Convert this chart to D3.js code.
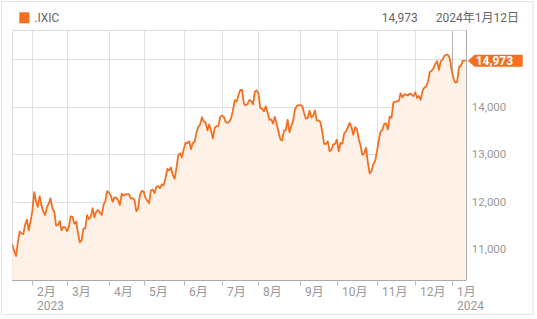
<!DOCTYPE html>
<html>
<head>
<meta charset="utf-8">
<script src="https://cdn.jsdelivr.net/npm/d3@7"></script>
<style>
body { margin: 0; background: #fff; }
svg { font-family: Roboto, "Noto Sans CJK JP", sans-serif; }
</style>
</head>
<body>
<svg width="537" height="319"></svg>
<script>
var symbol = '.IXIC';
var lastLabel = '14,973';
var dateLabel = '2024年1月12日';

// closes per month, trading days (Jan 2023 starts mid month)
var jan23 = [11079, 11095, 10957, 10852, 11140, 11364, 11334, 11313, 11512, 11621, 11394, 11584];
var feb23 = [11816, 12201, 12007, 11888, 12114, 11910, 11790, 11718, 11892, 11960, 12070, 11855, 11787, 11492, 11507, 11591, 11395, 11466, 11456];
var mar23 = [11379, 11462, 11689, 11676, 11530, 11576, 11338, 11138, 11188, 11428, 11434, 11717, 11630, 11675, 11860, 11670, 11787, 11824, 11768, 11716, 11926, 12013, 12222];
var apr23 = [12189, 12126, 11996, 12088, 12084, 12032, 11929, 12167, 12123, 12158, 12153, 12157, 12060, 12072, 12038, 11799, 11855, 12143, 12227];
var may23 = [12212, 12081, 12025, 11966, 12235, 12256, 12180, 12306, 12329, 12284, 12366, 12343, 12501, 12689, 12658, 12721, 12560, 12484, 12698, 12975, 13017, 12935];
var jun23 = [13101, 13241, 13230, 13276, 13104, 13239, 13259, 13461, 13573, 13626, 13782, 13689, 13667, 13502, 13630, 13492, 13335, 13555, 13591, 13591, 13788];
var jul23 = [13817, 13791, 13679, 13660, 13685, 13760, 13919, 14138, 14113, 14245, 14354, 14358, 14063, 14032, 14059, 14144, 14127, 14050, 14317, 14346];
var aug23 = [14283, 13973, 13960, 13909, 14012, 13885, 13723, 13737, 13645, 13789, 13632, 13474, 13316, 13290, 13498, 13506, 13722, 13464, 13590, 13705, 13943, 14020, 14035];
var sep23 = [14031, 14021, 13873, 13749, 13762, 13918, 13774, 13814, 13926, 13708, 13711, 13679, 13469, 13224, 13212, 13271, 13064, 13093, 13201, 13219];
var oct23 = [13308, 13059, 13236, 13220, 13431, 13485, 13563, 13660, 13575, 13407, 13568, 13534, 13315, 13187, 12984, 13019, 13140, 12821, 12596, 12643, 12790, 12851];
var nov23 = [13061, 13294, 13478, 13518, 13640, 13651, 13522, 13798, 13768, 14094, 14104, 14114, 14126, 14285, 14200, 14266, 14250, 14242, 14282, 14258, 14226];
var dec23 = [14306, 14186, 14230, 14147, 14340, 14404, 14432, 14533, 14734, 14762, 14814, 14905, 14964, 14778, 14964, 14993, 15075, 15100, 15096, 15011];
var jan24 = [14766, 14592, 14510, 14524, 14843, 14858, 14970, 14970, 14973];

var months = [jan23, feb23, mar23, apr23, may23, jun23, jul23, aug23, sep23, oct23, nov23, dec23, jan24];
var monthNames = ['1月', '2月', '3月', '4月', '5月', '6月', '7月', '8月', '9月', '10月', '11月', '12月', '1月'];
var yearNames = ['', '2023', '', '', '', '', '', '', '', '', '', '', '2024'];

var gridTicks = [11000, 12000, 13000, 14000, 15000];
var labelTicks = [11000, 12000, 13000, 14000];

var orange = '#f37021';

// flatten to points, remember where each month starts
var points = [];
var monthStart = [];
months.forEach(function(m, mi){
    monthStart.push({i: points.length, name: monthNames[mi], year: yearNames[mi]});
    m.forEach(function(v){
        points.push({i: points.length, v: v});
    });
});
var ticks = monthStart.slice(1);

var pLeft = 12.3, pRight = 465.7, pTop = 30.1, pBottom = 280.3;

var x = d3.scaleLinear().domain([12, 242]).range([32.4, 451.7]);
var y = d3.scaleLinear().domain([10340, 15618]).range([pBottom, pTop]);

var svg = d3.select('svg');

// outer frame
svg.append('rect')
    .attr('x', 1.5).attr('y', 1.5)
    .attr('width', 531.5).attr('height', 313)
    .attr('fill', 'none')
    .attr('stroke', '#e4e4e4');

// header
svg.append('rect')
    .attr('x', 19.3).attr('y', 12.3)
    .attr('width', 10).attr('height', 11)
    .attr('fill', orange);
svg.append('text')
    .attr('x', 34.3).attr('y', 22)
    .attr('font-size', 12).attr('fill', '#666')
    .text(symbol);
svg.append('text')
    .attr('x', 381.7).attr('y', 22)
    .attr('font-size', 12).attr('fill', '#666')
    .text(lastLabel);
svg.append('text')
    .attr('x', 435.7).attr('y', 22)
    .attr('font-size', 12).attr('fill', '#666')
    .text(dateLabel);

// grid
svg.append('g')
    .selectAll('line')
    .data(gridTicks)
    .enter()
    .append('line')
    .attr('x1', pLeft).attr('x2', pRight)
    .attr('y1', function(d){ return Math.round(y(d)) + 0.5; })
    .attr('y2', function(d){ return Math.round(y(d)) + 0.5; })
    .attr('stroke', '#e0e0e0');

svg.append('g')
    .selectAll('line')
    .data(ticks)
    .enter()
    .append('line')
    .attr('x1', function(d){ return Math.round(x(d.i)) + 0.5; })
    .attr('x2', function(d){ return Math.round(x(d.i)) + 0.5; })
    .attr('y1', pTop).attr('y2', pBottom)
    .attr('stroke', function(d){ return d.year == '2024' ? '#b4b4b4' : '#e0e0e0'; });

// top / left border
svg.append('path')
    .attr('d', 'M' + (Math.round(pLeft) + 0.5) + ',' + pBottom + 'V' + (Math.round(pTop) + 0.5) + 'H' + pRight)
    .attr('fill', 'none')
    .attr('stroke', '#dcdcdc');

// series
svg.append('clipPath')
    .attr('id', 'plot')
    .append('rect')
    .attr('x', pLeft).attr('y', pTop)
    .attr('width', pRight - pLeft).attr('height', pBottom - pTop);

var area = d3.area()
    .x(function(d){ return x(d.i); })
    .y0(pBottom)
    .y1(function(d){ return y(d.v); });

var line = d3.line()
    .x(function(d){ return x(d.i); })
    .y(function(d){ return y(d.v); });

var plot = svg.append('g').attr('clip-path', 'url(#plot)');
plot.append('path')
    .datum(points)
    .attr('d', area)
    .attr('fill', '#fef1e8');
plot.append('path')
    .datum(points)
    .attr('d', line)
    .attr('fill', 'none')
    .attr('stroke', orange)
    .attr('stroke-width', 1.8)
    .attr('stroke-linejoin', 'round');

// x axis
svg.append('line')
    .attr('x1', pLeft).attr('x2', pRight + 0.5)
    .attr('y1', Math.round(pBottom) + 0.5).attr('y2', Math.round(pBottom) + 0.5)
    .attr('stroke', '#aaa');

var xa = svg.append('g')
    .selectAll('g')
    .data(ticks)
    .enter()
    .append('g')
    .attr('transform', function(d){ return 'translate(' + (Math.round(x(d.i)) + 0.5) + ',0)'; });
xa.append('line')
    .attr('y1', pBottom).attr('y2', 285.5)
    .attr('stroke', '#bbb');
xa.append('text')
    .attr('x', 4.5).attr('y', 296)
    .attr('font-size', 12).attr('fill', '#999')
    .text(function(d){ return d.name; });
xa.append('text')
    .attr('x', 4.5).attr('y', 310)
    .attr('font-size', 12).attr('fill', '#999')
    .text(function(d){ return d.year; });

// y axis
svg.append('line')
    .attr('x1', Math.round(pRight) + 0.5).attr('x2', Math.round(pRight) + 0.5)
    .attr('y1', pTop).attr('y2', pBottom)
    .attr('stroke', '#aaa');

svg.append('g')
    .attr('transform', 'translate(' + pRight + ',0)')
    .call(d3.axisRight(y).tickValues(labelTicks).tickSize(0).tickPadding(6)
        .tickFormat(d3.format(',')))
    .call(function(g){
        g.select('.domain').remove();
        g.selectAll('text')
            .attr('font-size', 11.5)
            .attr('font-family', 'Roboto, sans-serif')
            .attr('fill', '#999');
    });

// last value badge
var last = points[points.length - 1];
var by = y(last.v);
var tip = pRight + 2;
svg.append('path')
    .attr('d', 'M' + tip + ',' + by + 'L' + (tip + 7) + ',' + (by - 6) + 'H522.7V' + (by + 6) + 'H' + (tip + 7) + 'Z')
    .attr('fill', orange);
svg.append('text')
    .attr('x', tip + 8).attr('y', by + 4.3)
    .attr('font-size', 12).attr('font-weight', 'bold')
    .attr('fill', '#fff')
    .text(d3.format(',')(last.v));
</script>
</body>
</html>
